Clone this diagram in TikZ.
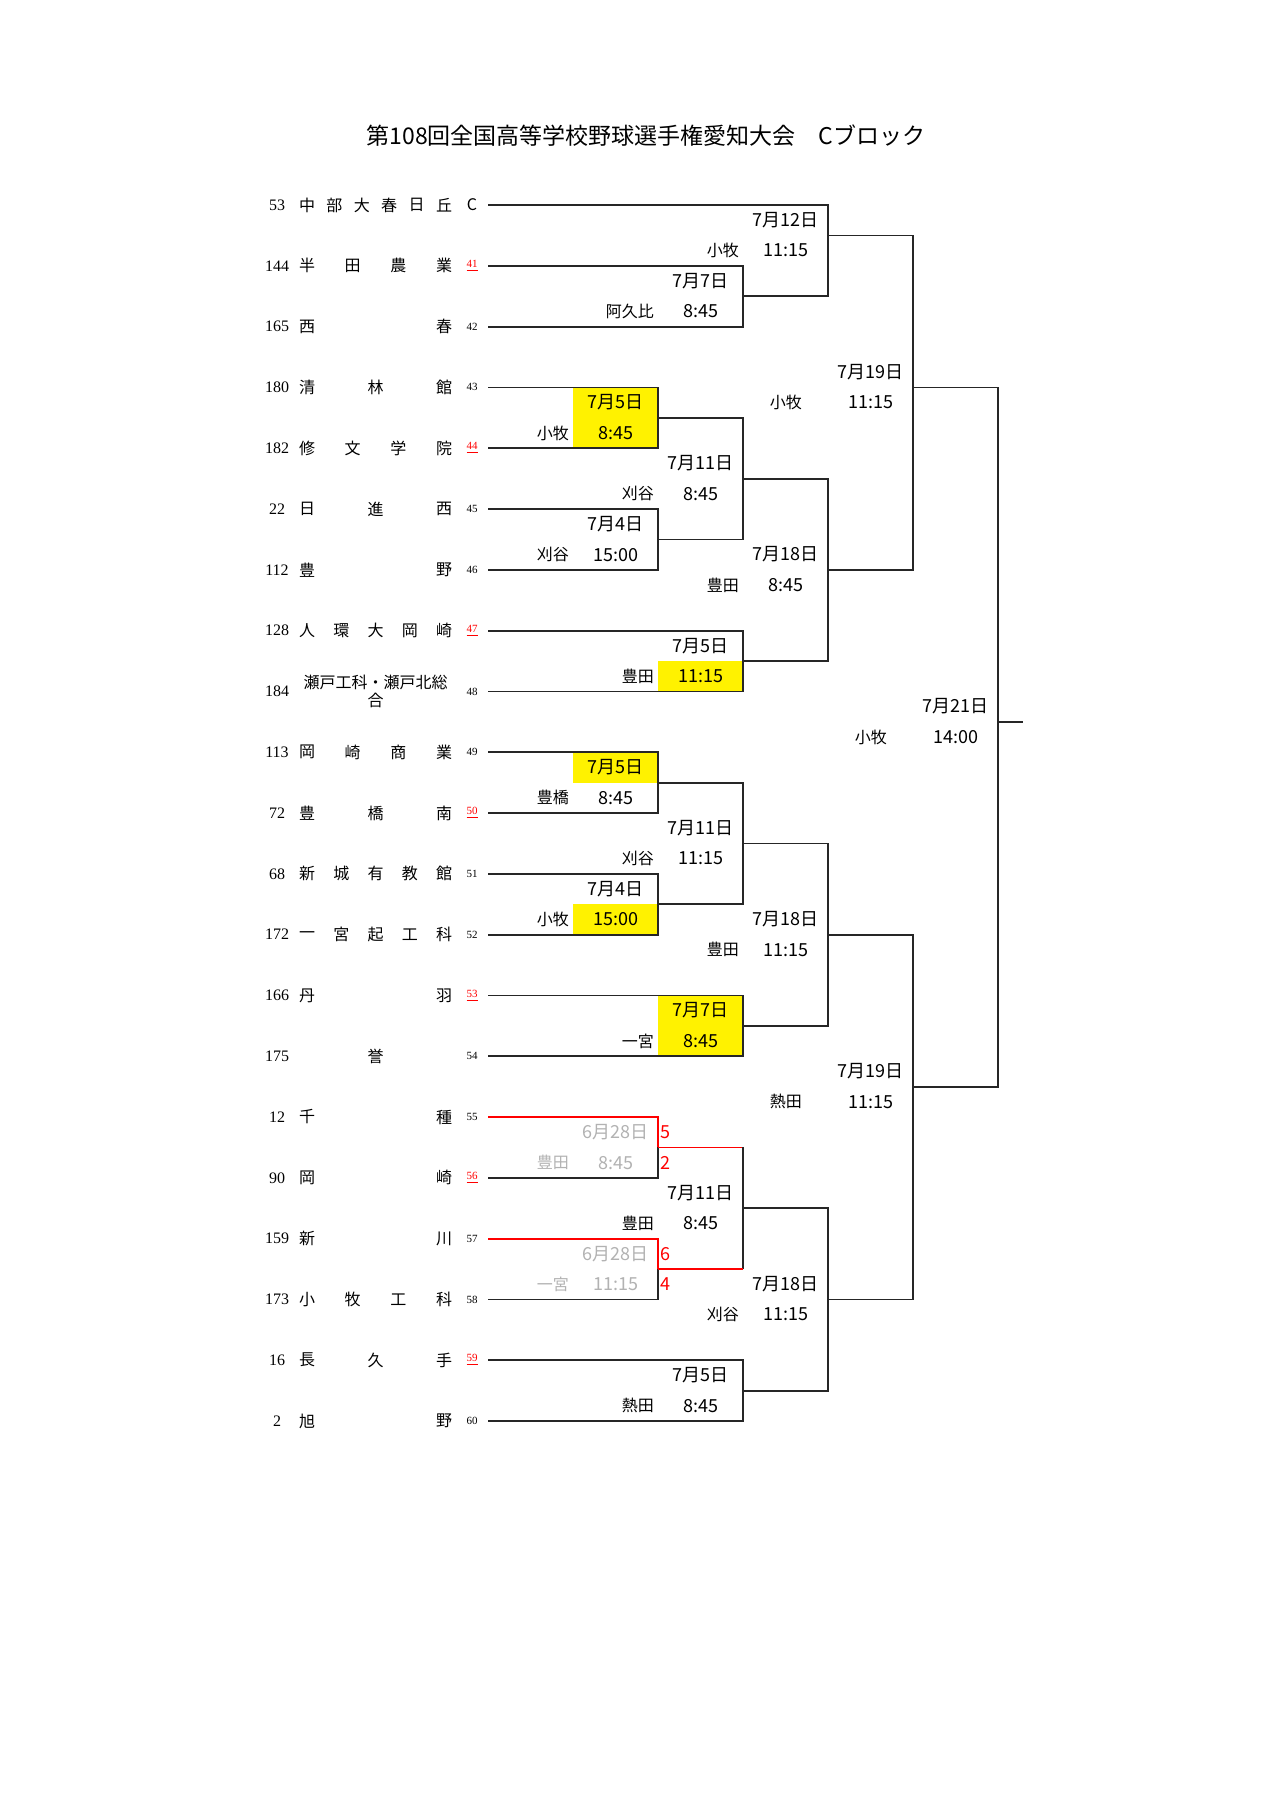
\documentclass[tikz,border=0pt]{standalone}
\usepackage{fontspec}
\setmainfont{Noto Sans CJK JP}
\newfontfamily\seedfont{Liberation Serif}
\usetikzlibrary{calc}
\def\cx#1{488.3+85*(#1)}
\def\ry#1{205+60.8*(#1)}
\def\teamname#1#2#3{\foreach \ch [count=\i from 0] in {#3} \node[tname] (nm#1-\i) at ({307+\i*137/(#2-1)},{\ry{#1}}) {\ch};}
\def\match#1#2#3#4#5{\coordinate (#1) at ({\cx{#2}},{\ry{#3}}); \draw[bline] (#4) -| (#1) |- (#5);}
\def\mlabel#1#2#3#4{\node[date] (#1d) at ($(#1)+(-42.5,-15.2)$) {#2}; \node[venue,anchor=east] (#1v) at ($(#1)+(-89,15.2)$) {#3}; \node[date] (#1t) at ($(#1)+(-42.5,15.2)$) {#4};}
\def\mlabelwide#1#2#3#4{\node[date] (#1d) at ($(#1)+(-42.5,-15.2)$) {#2}; \node[venue] (#1v) at ($(#1)+(-127.5,15.2)$) {#3}; \node[date] (#1t) at ($(#1)+(-42.5,15.2)$) {#4};}

\begin{document}
\begin{tikzpicture}[x=0.5pt,y=-0.5pt,
	bline/.style={line width=0.9pt,black!85},
	rline/.style={line width=0.9pt,red},
	title/.style={font=\fontsize{11.5}{13}\selectfont,inner sep=0pt},
	seed/.style={font=\seedfont\fontsize{8}{9}\selectfont,inner sep=0pt},
	tname/.style={font=\fontsize{8}{9}\selectfont,inner sep=0pt},
	slot/.style={font=\seedfont\fontsize{5.5}{6}\selectfont,inner sep=0pt},
	slotred/.style={slot,text=red},
	date/.style={font=\fontsize{9}{10}\selectfont,inner sep=0pt},
	venue/.style={font=\fontsize{8}{9}\selectfont,inner sep=0pt},
	score/.style={font=\fontsize{9}{10}\selectfont,text=red,inner sep=0pt,anchor=west},
	hl/.style={fill=yellow}]
			\useasboundingbox[fill=white] (0,0) rectangle (1280,1810);
			%%%%% TITLE %%%%%
			\node[title] (ttl) at (646,136) {第108回全国高等学校野球選手権愛知大会　Cブロック};
			
			%%%%% YELLOW CELLS %%%%%
			\fill[hl] ({\cx{1}},{\ry{3}}) rectangle ({\cx{2}},{\ry{4}});
			\fill[hl] ({\cx{2}},{\ry{7.5}}) rectangle ({\cx{3}},{\ry{8}});
			\fill[hl] ({\cx{1}},{\ry{9}}) rectangle ({\cx{2}},{\ry{9.5}});
			\fill[hl] ({\cx{1}},{\ry{11.5}}) rectangle ({\cx{2}},{\ry{12}});
			\fill[hl] ({\cx{2}},{\ry{13}}) rectangle ({\cx{3}},{\ry{14}});
			
			%%%%% TEAMS %%%%%
			\foreach \r in {0,...,20} \coordinate (s\r) at ({\cx{0}},{\ry{\r}});
			
			\node[seed] (sd0) at (277,{\ry{0}}) {53};
			\teamname{0}{6}{中,部,大,春,日,丘}
			\node[tname] (nm0-c) at (472,{\ry{0}}) {C};
			
			\node[seed] (sd1) at (277,{\ry{1}}) {144};
			\teamname{1}{4}{半,田,農,業}
			\node[slotred] (k1) at (472,{\ry{1}}) {\underline{41}};
			
			\node[seed] (sd2) at (277,{\ry{2}}) {165};
			\teamname{2}{2}{西,春}
			\node[slot] (k2) at (472,{\ry{2}}) {42};
			
			\node[seed] (sd3) at (277,{\ry{3}}) {180};
			\teamname{3}{3}{清,林,館}
			\node[slot] (k3) at (472,{\ry{3}}) {43};
			
			\node[seed] (sd4) at (277,{\ry{4}}) {182};
			\teamname{4}{4}{修,文,学,院}
			\node[slotred] (k4) at (472,{\ry{4}}) {\underline{44}};
			
			\node[seed] (sd5) at (277,{\ry{5}}) {22};
			\teamname{5}{3}{日,進,西}
			\node[slot] (k5) at (472,{\ry{5}}) {45};
			
			\node[seed] (sd6) at (277,{\ry{6}}) {112};
			\teamname{6}{2}{豊,野}
			\node[slot] (k6) at (472,{\ry{6}}) {46};
			
			\node[seed] (sd7) at (277,{\ry{7}}) {128};
			\teamname{7}{5}{人,環,大,岡,崎}
			\node[slotred] (k7) at (472,{\ry{7}}) {\underline{47}};
			
			\node[seed] (sd8) at (277,{\ry{8}}) {184};
			\node[tname,align=center] (nm8) at (375.5,{\ry{8}}) {瀬戸工科・瀬戸北総\\合};
			\node[slot] (k8) at (472,{\ry{8}}) {48};
			
			\node[seed] (sd9) at (277,{\ry{9}}) {113};
			\teamname{9}{4}{岡,崎,商,業}
			\node[slot] (k9) at (472,{\ry{9}}) {49};
			
			\node[seed] (sd10) at (277,{\ry{10}}) {72};
			\teamname{10}{3}{豊,橋,南}
			\node[slotred] (k10) at (472,{\ry{10}}) {\underline{50}};
			
			\node[seed] (sd11) at (277,{\ry{11}}) {68};
			\teamname{11}{5}{新,城,有,教,館}
			\node[slot] (k11) at (472,{\ry{11}}) {51};
			
			\node[seed] (sd12) at (277,{\ry{12}}) {172};
			\teamname{12}{5}{一,宮,起,工,科}
			\node[slot] (k12) at (472,{\ry{12}}) {52};
			
			\node[seed] (sd13) at (277,{\ry{13}}) {166};
			\teamname{13}{2}{丹,羽}
			\node[slotred] (k13) at (472,{\ry{13}}) {\underline{53}};
			
			\node[seed] (sd14) at (277,{\ry{14}}) {175};
			\node[tname] (nm14) at (375.5,{\ry{14}}) {誉};
			\node[slot] (k14) at (472,{\ry{14}}) {54};
			
			\node[seed] (sd15) at (277,{\ry{15}}) {12};
			\teamname{15}{2}{千,種}
			\node[slot] (k15) at (472,{\ry{15}}) {55};
			
			\node[seed] (sd16) at (277,{\ry{16}}) {90};
			\teamname{16}{2}{岡,崎}
			\node[slotred] (k16) at (472,{\ry{16}}) {\underline{56}};
			
			\node[seed] (sd17) at (277,{\ry{17}}) {159};
			\teamname{17}{2}{新,川}
			\node[slot] (k17) at (472,{\ry{17}}) {57};
			
			\node[seed] (sd18) at (277,{\ry{18}}) {173};
			\teamname{18}{4}{小,牧,工,科}
			\node[slot] (k18) at (472,{\ry{18}}) {58};
			
			\node[seed] (sd19) at (277,{\ry{19}}) {16};
			\teamname{19}{3}{長,久,手}
			\node[slotred] (k19) at (472,{\ry{19}}) {\underline{59}};
			
			\node[seed] (sd20) at (277,{\ry{20}}) {2};
			\teamname{20}{2}{旭,野}
			\node[slot] (k20) at (472,{\ry{20}}) {60};
			
			%%%%% BRACKETS %%%%%
			\match{A}{3}{1.5}{s1}{s2}
			\match{B}{4}{0.5}{s0}{A}
			\match{C}{2}{3.5}{s3}{s4}
			\match{D}{2}{5.5}{s5}{s6}
			\match{E}{3}{4.5}{C}{D}
			\match{F}{3}{7.5}{s7}{s8}
			\match{G}{4}{6}{E}{F}
			\match{H}{5}{3}{B}{G}
			\match{I}{2}{9.5}{s9}{s10}
			\match{J}{2}{11.5}{s11}{s12}
			\match{K}{3}{10.5}{I}{J}
			\match{L}{3}{13.5}{s13}{s14}
			\match{M}{4}{12}{K}{L}
			% played games, winner path in red
			\coordinate (N) at ({\cx{2}},{\ry{15.5}});
			\draw[rline] (s15) -| (N);
			\draw[bline] (N) |- (s16);
			\coordinate (O) at ({\cx{2}},{\ry{17.5}});
			\draw[rline] (s17) -| (O);
			\draw[bline] (O) |- (s18);
			\coordinate (P) at ({\cx{3}},{\ry{16.5}});
			\draw[rline] (N) -- (N -| P);
			\draw[bline] (N -| P) -- (O -| P);
			\draw[rline] (O -| P) -- (O);
			\match{Q}{3}{19.5}{s19}{s20}
			\match{R}{4}{18}{P}{Q}
			\match{S}{5}{14.5}{M}{R}
			\match{T}{6}{8.5}{H}{S}
			\coordinate (champ) at (1022.7,{\ry{8.5}});
			\draw[bline] (T) -- (champ);
			
			%%%%% LABELS %%%%%
			\mlabel{A}{7月7日}{阿久比}{8:45}
			\mlabel{B}{7月12日}{小牧}{11:15}
			\mlabel{C}{7月5日}{小牧}{8:45}
			\mlabel{D}{7月4日}{刈谷}{15:00}
			\mlabel{E}{7月11日}{刈谷}{8:45}
			\mlabel{F}{7月5日}{豊田}{11:15}
			\mlabel{G}{7月18日}{豊田}{8:45}
			\mlabelwide{H}{7月19日}{小牧}{11:15}
			\mlabel{I}{7月5日}{豊橋}{8:45}
			\mlabel{J}{7月4日}{小牧}{15:00}
			\mlabel{K}{7月11日}{刈谷}{11:15}
			\mlabel{L}{7月7日}{一宮}{8:45}
			\mlabel{M}{7月18日}{豊田}{11:15}
			\begin{scope}[every node/.append style={text=black!30}]
				\mlabel{N}{6月28日}{豊田}{8:45}
				\mlabel{O}{6月28日}{一宮}{11:15}
			\end{scope}
			\node[score] (scN1) at ($(N)+(2,-15.2)$) {5};
			\node[score] (scN2) at ($(N)+(2,15.2)$) {2};
			\node[score] (scO1) at ($(O)+(2,-15.2)$) {6};
			\node[score] (scO2) at ($(O)+(2,15.2)$) {4};
			\mlabel{P}{7月11日}{豊田}{8:45}
			\mlabel{Q}{7月5日}{熱田}{8:45}
			\mlabel{R}{7月18日}{刈谷}{11:15}
			\mlabelwide{S}{7月19日}{熱田}{11:15}
			\mlabelwide{T}{7月21日}{小牧}{14:00}
\end{tikzpicture}
\end{document}
